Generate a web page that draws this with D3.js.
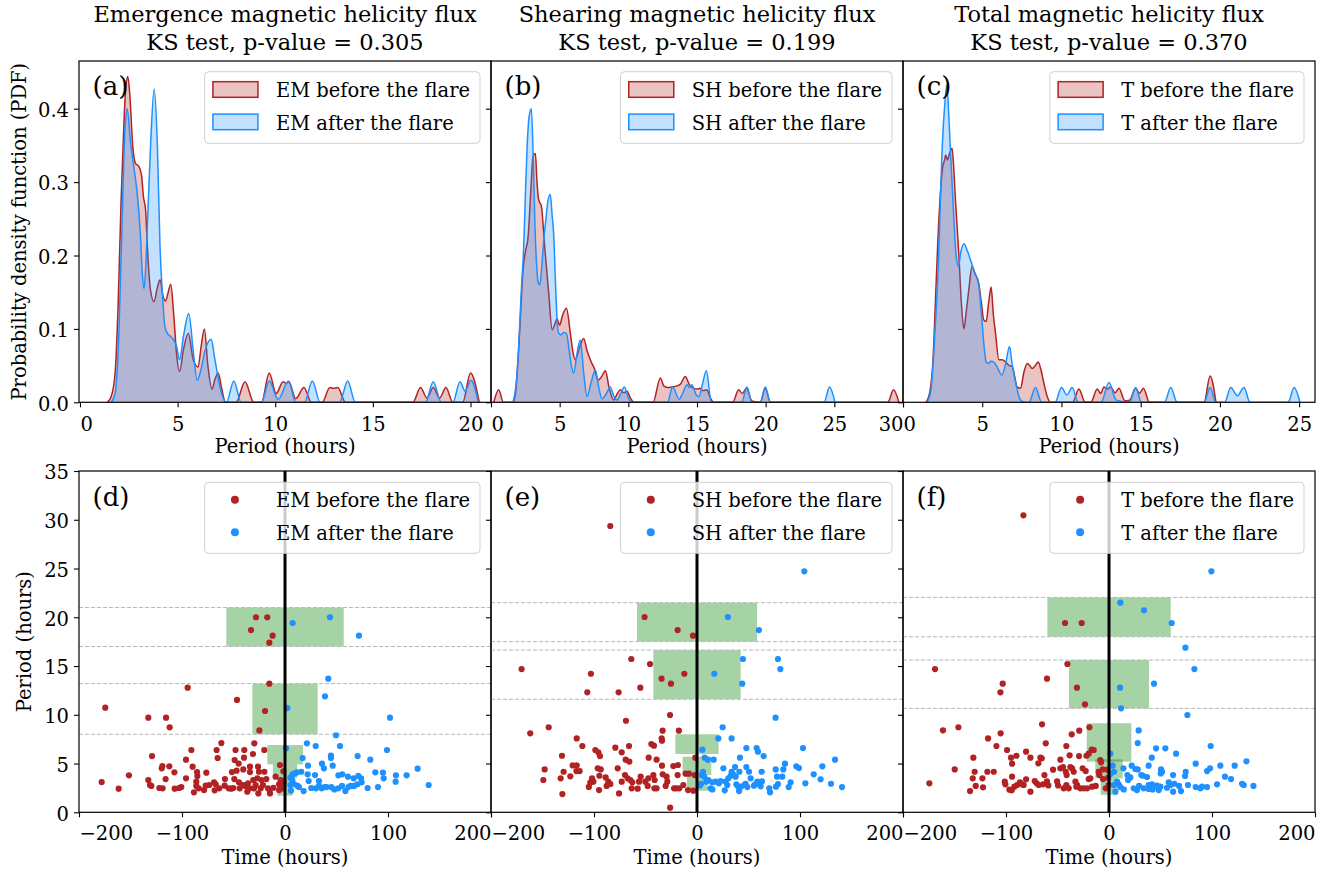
<!DOCTYPE html>
<html>
<head>
<meta charset="utf-8">
<script src="https://cdn.jsdelivr.net/npm/d3@7"></script>
<style>
  body { margin: 0; background: #fff; }
  svg text { font-family: "DejaVu Serif", serif; fill: #000; }
</style>
</head>
<body>
<svg id="chart" width="1335" height="875"></svg>
<script>
// ---------------- data ----------------
const fluxTitles = ["Emergence magnetic helicity flux", "Shearing magnetic helicity flux", "Total magnetic helicity flux"];
const ksPValues = ["0.305", "0.199", "0.370"];
const seriesNames = ["EM", "SH", "T"];
const pdfLetters = ["(a)", "(b)", "(c)"];
const scatterLetters = ["(d)", "(e)", "(f)"];

const periodDomains = [[-0.05, 21.05], [0, 30], [0, 26]];
const periodTicks = [[0, 5, 10, 15, 20], [0, 5, 10, 15, 20, 25, 30], [0, 5, 10, 15, 20, 25]];
const pdfDomain = [0, 0.465];
const pdfTicks = [0, 0.1, 0.2, 0.3, 0.4];
const timeDomain = [-200, 200];
const timeTicks = [-200, -100, 0, 100, 200];
const scatterPeriodDomain = [0, 35];
const scatterPeriodTicks = [0, 5, 10, 15, 20, 25, 30, 35];

// PDF curves: [period (h), density]
const pdfEmBefore = [[1.4,0],[1.6,0.008],[1.8,0.04],[1.95,0.13],[2.1,0.27],[2.25,0.38],[2.35,0.43],[2.45,0.444],[2.55,0.42],[2.7,0.35],[2.85,0.325],[3.0,0.322],[3.15,0.31],[3.25,0.28],[3.36,0.262],[3.45,0.213],[3.6,0.155],[3.79,0.137],[3.95,0.155],[4.1,0.167],[4.25,0.145],[4.38,0.138],[4.5,0.148],[4.65,0.161],[4.8,0.12],[4.95,0.065],[5.1,0.042],[5.3,0.072],[5.55,0.094],[5.8,0.058],[6.05,0.048],[6.2,0.075],[6.37,0.1],[6.55,0.05],[6.76,0.018],[6.92,0.032],[7.08,0.04],[7.25,0.02],[7.45,0],[8.0,0],[8.45,0.028],[8.9,0],[9.3,0],[9.69,0.04],[10.05,0.012],[10.4,0.028],[10.55,0.026],[10.7,0.028],[11.05,0.005],[11.47,0.02],[11.85,0],[12.4,0],[12.8,0.02],[13.0,0.019],[13.2,0.02],[13.6,0],[17.05,0],[17.44,0.02],[17.77,0.006],[18.09,0.02],[18.42,0.006],[18.74,0.02],[19.1,0],[19.6,0],[20.0,0.04],[20.45,0]];
const pdfEmAfter = [[1.6,0],[1.8,0.012],[2.0,0.1],[2.17,0.26],[2.3,0.37],[2.42,0.4],[2.59,0.353],[2.76,0.32],[2.93,0.285],[3.1,0.226],[3.19,0.176],[3.28,0.155],[3.36,0.18],[3.45,0.24],[3.62,0.353],[3.8,0.427],[3.96,0.353],[4.1,0.212],[4.22,0.149],[4.35,0.103],[4.5,0.093],[4.64,0.09],[4.8,0.085],[4.95,0.076],[5.1,0.058],[5.3,0.09],[5.57,0.121],[5.8,0.07],[6.0,0.03],[6.2,0.045],[6.4,0.07],[6.72,0.086],[6.9,0.06],[7.1,0.03],[7.3,0.008],[7.5,0],[7.88,0.029],[8.25,0],[9.3,0],[9.69,0.029],[10.15,0.004],[10.68,0.029],[11.05,0],[11.5,0],[11.9,0.029],[12.3,0],[13.3,0],[13.71,0.029],[14.1,0],[17.7,0],[18.09,0.028],[18.5,0],[19.1,0],[19.46,0.028],[19.73,0.015],[20.02,0.03],[20.4,0]];
const pdfShBefore = [[0.2,0],[0.56,0.017],[0.9,0],[1.6,0],[1.8,0.015],[1.97,0.058],[2.15,0.12],[2.33,0.18],[2.5,0.205],[2.7,0.225],[2.89,0.285],[3.06,0.335],[3.23,0.339],[3.35,0.3],[3.47,0.276],[3.67,0.267],[3.91,0.212],[4.2,0.149],[4.45,0.099],[4.62,0.105],[4.81,0.114],[5.0,0.105],[5.2,0.118],[5.49,0.128],[5.78,0.094],[5.95,0.07],[6.14,0.058],[6.45,0.075],[6.75,0.087],[7.0,0.07],[7.3,0.055],[7.55,0.045],[7.8,0.03],[8.05,0.035],[8.33,0.043],[8.6,0.02],[8.93,0.003],[9.2,0.012],[9.42,0.017],[9.65,0.013],[9.9,0.015],[10.15,0.006],[10.4,0],[11.8,0],[12.33,0.033],[12.6,0.022],[12.9,0.02],[13.2,0.021],[13.5,0.022],[13.8,0.025],[14.15,0.035],[14.45,0.024],[14.75,0.019],[15.0,0.018],[15.2,0.019],[15.45,0.016],[15.7,0.017],[16.0,0.005],[16.2,0],[17.6,0],[18.03,0.017],[18.3,0.012],[18.6,0.019],[19.0,0.002],[19.6,0],[19.97,0.019],[20.35,0],[28.9,0],[29.31,0.017],[29.7,0]];
const pdfShAfter = [[1.6,0],[1.8,0.02],[2.0,0.07],[2.2,0.15],[2.38,0.212],[2.5,0.28],[2.62,0.344],[2.78,0.39],[2.94,0.4],[3.08,0.33],[3.2,0.24],[3.3,0.194],[3.42,0.165],[3.55,0.16],[3.7,0.185],[3.84,0.221],[4.0,0.25],[4.15,0.275],[4.32,0.283],[4.45,0.255],[4.56,0.23],[4.7,0.16],[4.82,0.11],[4.93,0.094],[5.1,0.092],[5.3,0.095],[5.49,0.094],[5.7,0.07],[5.85,0.05],[6.02,0.04],[6.25,0.065],[6.5,0.085],[6.75,0.04],[6.99,0.008],[7.3,0.028],[7.6,0.044],[7.85,0.02],[8.08,0.005],[8.4,0.012],[8.69,0.021],[8.95,0.008],[9.18,0.003],[9.45,0.012],[9.71,0.021],[10.0,0.006],[10.3,0],[12.85,0],[13.23,0.021],[13.7,0.004],[13.95,0.012],[14.27,0.024],[14.45,0.02],[14.63,0.024],[14.95,0.01],[15.15,0.008],[15.4,0.025],[15.68,0.043],[16.05,0],[18.25,0],[18.64,0.021],[19.0,0],[19.6,0],[19.97,0.021],[20.35,0],[24.25,0],[24.65,0.021],[25.05,0]];
const pdfTBefore = [[1.45,0],[1.7,0.015],[1.9,0.06],[2.05,0.14],[2.2,0.22],[2.36,0.285],[2.5,0.32],[2.62,0.33],[2.7,0.337],[2.8,0.33],[2.95,0.34],[3.1,0.346],[3.2,0.32],[3.31,0.276],[3.52,0.203],[3.7,0.13],[3.84,0.1],[4.0,0.125],[4.15,0.153],[4.36,0.185],[4.55,0.175],[4.78,0.162],[4.95,0.135],[5.1,0.112],[5.25,0.11],[5.4,0.135],[5.56,0.157],[5.7,0.12],[5.84,0.094],[6.05,0.058],[6.25,0.058],[6.47,0.055],[6.7,0.05],[6.89,0.049],[7.05,0.035],[7.2,0.021],[7.42,0.019],[7.62,0.04],[7.84,0.053],[8.0,0.05],[8.15,0.046],[8.35,0.05],[8.53,0.055],[8.7,0.045],[8.89,0.026],[9.1,0.008],[9.31,0],[10.7,0],[11.1,0.018],[11.5,0],[11.85,0],[12.26,0.018],[12.48,0.012],[12.68,0.021],[12.9,0.018],[13.1,0.021],[13.38,0.013],[13.63,0.019],[14.0,0.002],[14.3,0.003],[14.68,0.019],[14.92,0.012],[15.17,0.019],[15.55,0],[19.0,0],[19.38,0.036],[19.75,0]];
const pdfTAfter = [[1.5,0],[1.75,0.015],[2.0,0.09],[2.24,0.194],[2.44,0.33],[2.66,0.412],[2.76,0.432],[2.87,0.4],[2.97,0.353],[3.18,0.262],[3.35,0.2],[3.5,0.185],[3.65,0.205],[3.85,0.216],[4.05,0.207],[4.26,0.194],[4.5,0.178],[4.78,0.16],[4.95,0.12],[5.1,0.08],[5.25,0.055],[5.4,0.053],[5.55,0.056],[5.71,0.055],[5.9,0.05],[6.05,0.043],[6.24,0.037],[6.5,0.055],[6.72,0.076],[6.9,0.05],[7.08,0.03],[7.42,0.003],[7.7,0],[7.95,0],[8.36,0.02],[8.75,0],[9.6,0],[10.0,0.02],[10.34,0.01],[10.68,0.02],[11.05,0],[12.5,0],[13.0,0.027],[13.45,0.003],[14.3,0],[14.68,0.02],[15.05,0],[16.5,0],[16.9,0.02],[17.3,0],[19.0,0],[19.38,0.02],[19.75,0],[20.3,0],[20.68,0.02],[21.1,0.009],[21.52,0.02],[21.9,0],[24.3,0],[24.68,0.02],[25.05,0]];

// scatter points: [time (h), period (h)]
const ptsEmBefore = [[-174.5,10.73],[-132.7,9.7],[-115.5,9.7],[-112,8.71],[-94.5,12.78],[-46.6,11.52],[-15.2,13.19],[-19.4,10.39],[-24.9,8.4],[-28.2,20.0],[-17.2,20.0],[-33,18.69],[-12,18.11],[-15.2,17.39],
  [-61.8,7.1],[-29.8,7.07],[-90.9,6.39],[-66.4,6.39],[-48,6.39],[-39.5,6.39],[-20.1,6.39],[-31.1,5.98],[-129.1,5.77],[-65.4,5.57],[-39.8,5.6],[-96.1,5.4],[-48.9,5.36],[-45,5.0],
  [-119.7,4.51],[-119,4.75],[-112.3,4.71],[-89.7,4.68],[-34,4.68],[-26.2,4.68],[-4.9,4.85],
  [-151.5,3.79],[-107.4,4.1],[-85.4,4.13],[-85.1,3.72],[-76.4,4.06],[-51.5,4.13],[-47,4.27],[-40.5,4.4],[-34,4.13],[-25.3,4.16],[-20,4.16],[-1.6,4.2],
  [-178,3.1],[-132.7,3.31],[-115.9,3.41],[-96.1,3.48],[-86.1,3.14],[-68.9,3.07],[-58.3,3.41],[-49.2,3.41],[-44.7,3.07],[-30.8,3.31],[-26.9,3.48],[-22.7,3.31],[-18.1,3.41],[-9.1,3.65],[-4.2,3.31],[-1.3,3.14],
  [-131.1,2.8],[-129.8,2.7],[-86.1,2.7],[-77,2.73],[-73.5,2.8],[-67.3,2.87],[-58.6,2.73],[-50.2,2.49],[-40.5,2.8],[-38.5,2.7],[-35.9,2.97],[-28.5,2.8],[-21.4,2.8],[-16.5,2.46],[-5.8,2.87],[-2.6,2.7],
  [-161.5,2.42],[-122,2.49],[-118.8,2.46],[-107.1,2.42],[-102.9,2.49],[-100.7,2.59],[-83.8,2.46],[-78.6,2.28],[-63.8,2.46],[-54.7,2.46],[-52.1,2.42],[-44,2.46],[-34.3,2.46],[-30.1,2.46],[-23.6,2.46],[-14.9,2.28],[-11.3,2.52],[-2,2.46],
  [-88.4,2.05],[-68.3,2.25],[-36.6,2.11],[-25.9,1.94],[-14.6,1.94],[-5.8,2.28]];
const ptsEmAfter = [[43.7,20.0],[7.4,19.41],[71.8,18.11],[42,13.7],[38.8,11.89],[2.3,10.69],[101.9,9.7],[49.5,7.9],
  [21.3,7.07],[29.8,6.8],[53.4,6.8],[1,6.56],[99,6.39],[17.1,5.57],[44.6,5.81],[44.6,5.57],[70.5,5.77],[82.8,5.4],[35.9,4.99],[46.3,4.78],[37.8,4.51],[22.3,4.78],[128.8,4.47],[15.8,4.16],
  [7.4,3.89],[9.7,3.99],[11.6,4.1],[22,3.89],[29.1,3.82],[51.8,3.79],[55.6,3.89],[61.1,3.65],[66.7,3.48],[71.2,3.75],[73.8,3.48],[87.7,4.1],[95.1,4.06],[95.8,3.48],[107.7,3.79],[118.1,3.79],
  [5.2,3.55],[7.1,3.31],[23,3.21],[33,3.21],[67,2.7],[70.2,2.87],[74.4,3.07],[80.2,2.49],[90.3,2.59],[107.4,3.14],[139.5,2.8],[5.2,2.8],[9,2.87],[13.6,2.59],[18.1,2.18],[25.5,2.49],[30.1,2.46],[33,2.7],
  [40.4,2.59],[47.9,2.35],[51.8,2.46],[58.6,2.18],[55.3,2.7],[61.5,2.59],[63.7,2.7],[35.6,2.46],[5.8,2.22],[12.3,2.7],[38.5,2.59],[45,2.59]];
const ptsShBefore = [[-84.2,29.36],[-50.9,20.03],[-18.8,18.69],[-3.9,18.11],[-63.8,15.72],[-45.6,15.21],[-170.3,14.69],[-103,14.21],[-12.3,14.21],[-34.4,13.7],[-25.3,13.19],[-106.5,12.3],[-76.1,12.3],[-55,12.78],[-26.2,9.98],[-69,9.39],[-144,8.72],[-161.9,8.1],[-33.4,8.37],[-17.6,8.37],[-26.1,0.47],
  [-116.8,7.58],[-111.3,6.8],[-98.7,6.39],[-95.8,6.15],[-79.3,6.63],[-66,6.8],[-73.1,6.15],[-94.2,5.77],[-44.3,7.0],[-41.8,6.83],[-34.3,7.58],[-34,7.34],[-69.3,5.4],[-65.7,5.19],[-46.9,5.6],[-39.2,5.4],[-131.1,5.8],
  [-147.9,4.4],[-129.5,4.16],[-120.7,4.81],[-116.8,4.81],[-117.1,4.23],[-113.9,4.23],[-123,3.69],[-132.4,3.48],[-149.2,3.31],[-130.7,1.87],[-96.4,4.51],[-93.5,4.4],[-101.9,3.48],[-100.6,3.14],[-94.8,3.75],[-88.7,3.58],
  [-86.1,3.14],[-84.1,2.9],[-87.7,2.7],[-77,4.51],[-75.7,1.94],[-73.1,3.14],[-95.1,2.28],[-69.9,3.82],[-67.3,3.48],[-64.7,3.31],[-62.8,3.07],[-63.4,2.46],[-57.6,2.42],[-54.7,3.65],[-56.3,3.14],[-50.2,3.14],
  [-47.2,3.48],[-42.4,3.82],[-41.1,3.31],[-47.9,2.7],[-41.4,2.46],[-39.2,2.46],[-34,4.78],[-33.3,3.89],[-29.5,3.65],[-28.8,3.14],[-30.4,2.7],[-23,4.75],[-18.5,4.85],[-18.8,3.82],[-22.3,2.46],[-20.1,2.46],
  [-17.2,2.46],[-13.3,2.8],[-11,3.96],[-7.8,3.96],[-8.7,2.28],[-3.6,2.22],[-2.3,3.82],[-1.6,5.6],[-103.6,3.04],[-105,2.6]];
const ptsShAfter = [[104.2,24.71],[30,20.03],[60.1,18.69],[44.6,15.72],[78.6,15.72],[80.9,14.69],[16.8,14.21],[43.9,13.19],[76.3,9.7],[24.9,8.72],
  [20.7,7.58],[33.6,7.58],[5.2,6.42],[7.4,5.6],[10.4,5.4],[16.2,5.4],[47.9,6.59],[57.9,6.59],[59.2,6.22],[64.7,5.77],[41.7,5.6],[102.9,6.59],[134,5.4],[85.4,4.99],[76.4,4.4],[83.8,4.4],[96.4,4.71],[99,4.54],
  [121.7,4.71],[25.6,4.51],[33.6,4.16],[36.9,4.64],[41.1,4.16],[47.9,4.64],[50.5,4.16],[62.8,4.16],[77.7,3.65],[82.8,3.65],[113.3,3.89],[120,3.38],[140.8,2.59],[130.1,2.93],[105.2,2.97],[90.9,3.07],
  [89,2.59],[78.6,2.9],[76.7,2.63],[70.2,2.46],[70.9,2.05],[61.8,2.66],[63.1,3.17],[58.6,3.14],[55.3,2.73],[47.2,2.93],[48.9,2.59],[45.9,2.8],[42.7,2.63],[40.8,2.18],[39.8,2.66],[38.2,2.87],[32.7,3.75],
  [35,3.89],[37.5,3.65],[27.8,3.14],[29.4,2.8],[30.4,3.48],[22.9,3.21],[21.3,2.97],[18.1,3.14],[14.9,3.07],[12.9,2.46],[14.9,2.35],[11,3.31],[9.1,3.14],[7.1,3.65],[5.8,4.16],[4.5,3.82],[3.9,2.93],
  [2.9,2.76],[26.9,2.25],[52.1,3.48],[56.6,2.87]];
const ptsTBefore = [[-83.1,30.45],[-42.7,19.41],[-26.5,19.41],[-40.4,15.21],[-168.9,14.69],[-60.2,13.7],[-103.2,13.19],[-105.4,12.3],[-31.1,12.78],[-23.3,11.07],[-65,9.02],[-161.2,8.41],[-146.2,8.72],[-105.2,8.1],[-19,8.72],[-28.9,8.37],[-36.2,8.0],
  [-117.4,7.58],[-109.3,6.8],[-99,6.39],[-95.1,5.6],[-94.1,4.99],[-89.9,5.8],[-80.5,6.22],[-76.3,5.6],[-66.6,5.6],[-65.3,5.53],[-61.4,7.07],[-68.6,5.02],[-41.4,6.8],[-38.2,5.84],[-47.2,5.4],[-29.1,5.77],
  [-21.9,5.8],[-16.8,6.42],[-14.8,6.39],[-19.7,6.01],[-8.4,5.36],[-7.7,5.12],[-131.7,5.6],[-149.8,4.4],[-130.4,4.16],[-132.3,3.48],[-122.9,3.48],[-118.1,4.16],[-111.9,4.16],[-129.4,2.7],[-122.3,2.56],
  [-134.9,2.18],[-174.4,2.97],[-101.2,3.14],[-100.6,2.87],[-94.1,3.65],[-96.7,2.32],[-89.3,2.8],[-86.4,3.07],[-80.5,3.38],[-76.3,2.11],[-72.1,3.21],[-70.2,2.97],[-68.2,2.8],[-64,2.87],[-62.7,3.82],
  [-60.2,3.17],[-58.9,2.76],[-54.3,4.37],[-50.4,3.17],[-49.5,2.76],[-47.2,4.51],[-44.6,4.64],[-42,4.16],[-41.1,3.82],[-44,2.46],[-39.1,2.46],[-41.4,2.8],[-37.5,4.64],[-35.9,4.51],[-34.3,4.16],
  [-32.6,3.14],[-31.7,2.63],[-31,2.8],[-27.8,2.46],[-24.6,2.46],[-21.3,2.46],[-25.6,4.51],[-22.6,4.23],[-19.7,3.41],[-18.1,3.48],[-16.5,2.63],[-12.9,2.7],[-10,4.16],[-9.4,3.82],[-6.1,4.4],
  [-5.8,3.41],[-1.6,4.37],[-0.9,3.55],[-0.3,2.8],[-3.2,2.46],[-91.9,2.63],[-84.4,2.87],[-82.8,2.8],[-94.5,2.25]];
const ptsTAfter = [[99.4,24.71],[11.1,21.5],[34,20.71],[60.9,19.41],[74.2,16.88],[82.9,14.69],[43.7,13.19],[10.7,12.78],[11.7,10.66],[76.1,9.98],
  [28.8,8.4],[27.9,7.1],[45.7,6.56],[54.7,6.56],[98.7,6.8],[41.5,5.6],[65.1,6.01],[84.2,4.99],[1.3,6.01],[133.4,5.23],[122,4.78],[108.1,4.78],[98.1,4.51],[95.2,4.23],[50.5,4.4],[51.5,4.16],[50.2,3.99],
  [38.5,4.78],[22,4.78],[14,4.51],[3.6,4.78],[4.9,4.16],[1.3,3.93],[74.5,4.16],[73.8,3.72],[62.2,3.82],[112.6,3.65],[118.5,3.41],[76.7,2.8],[68,2.7],[84.2,2.59],[129.2,2.93],[130.8,2.8],[140.2,2.7],
  [104.9,2.87],[95.2,2.59],[88.7,2.46],[90.3,2.63],[17.8,3.82],[20.7,3.58],[18.5,3.31],[25.6,4.44],[27.9,4.4],[31.4,3.82],[33.1,3.75],[29.2,2.7],[33.7,2.46],[27.2,2.28],[24,2.46],[4.6,2.8],[7.8,3.14],
  [9.4,2.87],[11,2.59],[14.3,2.35],[6.2,2.11],[38.5,2.8],[41.8,2.87],[46.6,2.73],[49.9,2.63],[48.3,2.28],[42.4,2.35],[38.5,2.39],[59.6,2.8],[58,3.07],[62.2,2.11],[69.9,2.18],[56.3,2.52],[63.5,2.93],[36.9,3.62]];

// period bands: [time from, time to, period from, period to]
const boxesEm = [[-57,57,17.0,21.0],[-31.7,31.7,8.0,13.2],[-17.2,17.5,4.92,6.9],[-11.8,11.8,3.5,4.92],[-7.3,7.3,1.7,3.5]];
const boxesSh = [[-58.3,58.3,17.5,21.5],[-42.4,42.4,11.59,16.64],[-21,21,5.98,8.0],[-14,13.9,3.82,5.7],[-9.7,9.7,2.2,3.82]];
const boxesT = [[-59.8,59.9,18.0,22.04],[-38.8,38.8,10.66,15.62],[-21.6,21.7,5.19,9.13],[-13.3,13.3,3.49,5.43],[-8.1,8.1,1.79,3.49]];
const bandLinesEm = [8.0, 13.2, 17.0, 21.0];
const bandLinesSh = [11.59, 16.64, 17.5, 21.5];
const bandLinesT = [10.66, 15.62, 18.0, 22.04];

const pdfBefore = [pdfEmBefore, pdfShBefore, pdfTBefore];
const pdfAfter = [pdfEmAfter, pdfShAfter, pdfTAfter];
const ptsBefore = [ptsEmBefore, ptsShBefore, ptsTBefore];
const ptsAfter = [ptsEmAfter, ptsShAfter, ptsTAfter];
const boxes = [boxesEm, boxesSh, boxesT];
const bandLines = [bandLinesEm, bandLinesSh, bandLinesT];

// ---------------- layout ----------------
const svg = d3.select("#chart");
const red = "#b22222", blue = "#1e90ff";
const panelX = [[79, 491], [491, 903], [903, 1315]];
const pdfTop = 61, pdfBottom = 402.3;
const scTop = 471, scBottom = 812.3;
const fs = 19.5;

function styleAxis(g) {
  g.attr("font-size", null).attr("font-family", null);
  g.select(".domain").remove();
  g.selectAll(".tick line").attr("stroke", "#000").attr("stroke-width", 1.1);
  g.selectAll(".tick text").attr("fill", "#000").style("font-size", fs + "px");
}

function xAxis(g, scale, ticks, y, showLabels, labelY) {
  const ax = g.append("g").attr("transform", `translate(0,${y})`)
    .call(d3.axisBottom(scale).tickValues(ticks).tickSizeInner(5).tickSizeOuter(0)
      .tickFormat(showLabels ? d3.format("") : ""));
  styleAxis(ax);
  const [d0, d1] = scale.domain(), tol = (d1 - d0) * 0.01;
  ax.selectAll(".tick text").attr("dy", null).attr("y", labelY)
    .attr("text-anchor", d => Math.abs(d - d0) <= tol ? "start" : (Math.abs(d - d1) <= tol ? "end" : "middle"));
}

function yAxis(g, scale, ticks, x, fmt, showLabels) {
  const ax = g.append("g").attr("transform", `translate(${x},0)`)
    .call(d3.axisLeft(scale).tickValues(ticks).tickSizeInner(5).tickSizeOuter(0)
      .tickFormat(showLabels ? fmt : ""));
  styleAxis(ax);
  ax.selectAll(".tick text").attr("x", -10).attr("dy", "0.4em");
}

function legend(g, right, top, labels, kind) {
  const lg = g.append("g");
  const box = lg.append("rect");
  const rowsText = kind === "patch" ? [25.5, 58] : [24.7, 57.5];
  const texts = labels.map((t, k) => lg.append("text").attr("y", top + rowsText[k])
    .style("font-size", fs + "px").text(t));
  const w = d3.max(texts, t => t.node().getComputedTextLength());
  const bw = 71.3 + w + 10, bx = right - 11 - bw;
  texts.forEach(t => t.attr("x", bx + 71.3));
  box.attr("x", bx).attr("y", top).attr("width", bw).attr("height", kind === "patch" ? 71.6 : 71)
    .attr("rx", 4).attr("fill", "#fff").attr("fill-opacity", 0.8).attr("stroke", "#d0d0d0").attr("stroke-width", 1);
  [red, blue].forEach((c, k) => {
    if (kind === "patch") {
      lg.append("rect").attr("x", bx + 8.3).attr("y", top + 10 + k * 32.4).attr("width", 45).attr("height", 15.6)
        .attr("fill", c).attr("fill-opacity", 0.27).attr("stroke", c).attr("stroke-width", 1.5);
    } else {
      lg.append("circle").attr("cx", bx + 30.3).attr("cy", top + 17.4 + k * 32.6).attr("r", 4).attr("fill", c);
    }
  });
}

const defs = svg.append("defs");

// ---------------- top row: PDFs ----------------
for (let i = 0; i < 3; i++) {
  const [x0, x1] = panelX[i];
  const x = d3.scaleLinear().domain(periodDomains[i]).range([x0, x1]);
  const y = d3.scaleLinear().domain(pdfDomain).range([pdfBottom, pdfTop]);
  const g = svg.append("g");
  defs.append("clipPath").attr("id", "clipTop" + i).append("rect")
    .attr("x", x0).attr("y", pdfTop).attr("width", x1 - x0).attr("height", pdfBottom - pdfTop);
  const plot = g.append("g").attr("clip-path", `url(#clipTop${i})`);
  const area = d3.area().x(d => x(d[0])).y0(y(0)).y1(d => y(d[1])).curve(d3.curveMonotoneX);
  const line = d3.line().x(d => x(d[0])).y(d => y(d[1])).curve(d3.curveMonotoneX);
  [[pdfBefore[i], red], [pdfAfter[i], blue]].forEach(([data, c]) => {
    plot.append("path").attr("d", area(data)).attr("fill", c).attr("fill-opacity", 0.27);
    plot.append("path").attr("d", line(data)).attr("fill", "none").attr("stroke", c).attr("stroke-width", 1.5);
  });
  g.append("rect").attr("x", x0).attr("y", pdfTop).attr("width", x1 - x0).attr("height", pdfBottom - pdfTop)
    .attr("fill", "none").attr("stroke", "#000").attr("stroke-width", 1.2);
  xAxis(g, x, periodTicks[i], pdfBottom, true, 28.5);
  yAxis(g, y, pdfTicks, x0, d3.format(".1f"), i === 0);
  legend(g, x1, 71.7, [seriesNames[i] + " before the flare", seriesNames[i] + " after the flare"], "patch");
  g.append("text").attr("x", x0 + 13.5).attr("y", 95).style("font-size", "26px").text(pdfLetters[i]);
  const cx = (x0 + x1) / 2;
  g.append("text").attr("x", cx).attr("y", 22).attr("text-anchor", "middle").style("font-size", "22.5px").text(fluxTitles[i]);
  g.append("text").attr("x", cx).attr("y", 50).attr("text-anchor", "middle").style("font-size", "22.5px")
    .text("KS test, p-value = " + ksPValues[i]);
  g.append("text").attr("x", cx).attr("y", 453).attr("text-anchor", "middle").style("font-size", fs + "px").text("Period (hours)");
}
svg.append("text").attr("transform", `translate(25.5,${(pdfTop + pdfBottom) / 2}) rotate(-90)`)
  .attr("text-anchor", "middle").style("font-size", fs + "px").text("Probability density function (PDF)");

// ---------------- bottom row: scatter ----------------
for (let i = 0; i < 3; i++) {
  const [x0, x1] = panelX[i];
  const x = d3.scaleLinear().domain(timeDomain).range([x0, x1]);
  const y = d3.scaleLinear().domain(scatterPeriodDomain).range([scBottom, scTop]);
  const g = svg.append("g");
  defs.append("clipPath").attr("id", "clipBot" + i).append("rect")
    .attr("x", x0).attr("y", scTop).attr("width", x1 - x0).attr("height", scBottom - scTop);
  const plot = g.append("g").attr("clip-path", `url(#clipBot${i})`);
  plot.selectAll("rect.band").data(boxes[i]).join("rect").attr("class", "band")
    .attr("x", d => x(d[0])).attr("width", d => x(d[1]) - x(d[0]))
    .attr("y", d => y(d[3])).attr("height", d => y(d[2]) - y(d[3]))
    .attr("fill", "#008000").attr("fill-opacity", 0.35);
  plot.selectAll("line.bandline").data(bandLines[i]).join("line").attr("class", "bandline")
    .attr("x1", x0).attr("x2", x1).attr("y1", d => y(d)).attr("y2", d => y(d))
    .attr("stroke", "#b8b8b8").attr("stroke-width", 1).attr("stroke-dasharray", "4,2");
  [[ptsBefore[i], red], [ptsAfter[i], blue]].forEach(([data, c]) => {
    plot.append("g").selectAll("circle").data(data).join("circle")
      .attr("cx", d => x(d[0])).attr("cy", d => y(d[1])).attr("r", 3.1).attr("fill", c);
  });
  plot.append("line").attr("x1", x(0)).attr("x2", x(0)).attr("y1", scTop).attr("y2", scBottom)
    .attr("stroke", "#000").attr("stroke-width", 3);
  g.append("rect").attr("x", x0).attr("y", scTop).attr("width", x1 - x0).attr("height", scBottom - scTop)
    .attr("fill", "none").attr("stroke", "#000").attr("stroke-width", 1.2);
  xAxis(g, x, timeTicks, scBottom, true, 28);
  yAxis(g, y, scatterPeriodTicks, x0, d3.format("d"), i === 0);
  legend(g, x1, 482.3, [seriesNames[i] + " before the flare", seriesNames[i] + " after the flare"], "dot");
  g.append("text").attr("x", x0 + 13.5).attr("y", 506).style("font-size", "26px").text(scatterLetters[i]);
  g.append("text").attr("x", (x0 + x1) / 2).attr("y", 864).attr("text-anchor", "middle").style("font-size", fs + "px").text("Time (hours)");
}
svg.append("text").attr("transform", `translate(31,${(scTop + scBottom) / 2}) rotate(-90)`)
  .attr("text-anchor", "middle").style("font-size", fs + "px").text("Period (hours)");
</script>
</body>
</html>
